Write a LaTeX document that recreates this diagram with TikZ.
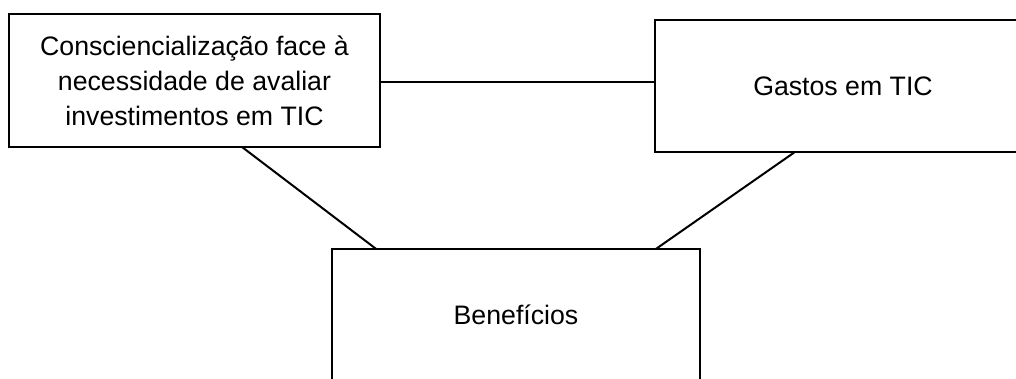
\documentclass[tikz,border=0pt]{standalone}
\usepackage{fontspec}
\setmainfont{Liberation Sans}
\usetikzlibrary{calc}
\begin{document}
\begin{tikzpicture}[x=1pt,y=-1pt,
  box/.style={draw,line width=2.6pt,inner sep=0pt,outer sep=0pt,align=center,
    font=\fontsize{26.7}{35}\selectfont},
  link/.style={line width=2pt}]
\useasboundingbox (0,0) rectangle (1016,379);
\clip (0,0) rectangle (1016,379);
% the three boxes
\node[box,minimum width=371pt,minimum height=133pt] (cons) at (194.5,80.5)
  {Consciencialização face à\\necessidade de avaliar\\investimentos em TIC};
\node[box,minimum width=376pt,minimum height=132pt] (gastos) at (843,86)
  {Gastos em TIC};
\node[box,minimum width=368pt,minimum height=132pt] (ben) at (516,315)
  {Benefícios};
% connectors between the boxes
\draw[link] (cons.east) ++(0,1.5) coordinate (h) -- (h -| gastos.west);
\draw[link] ($(cons.south west)!0.628!(cons.south east)$)
  -- ($(ben.north west)!0.12!(ben.north east)$);
\draw[link] ($(gastos.south west)!0.372!(gastos.south east)$)
  -- ($(ben.north west)!0.88!(ben.north east)$);
\end{tikzpicture}
\end{document}
